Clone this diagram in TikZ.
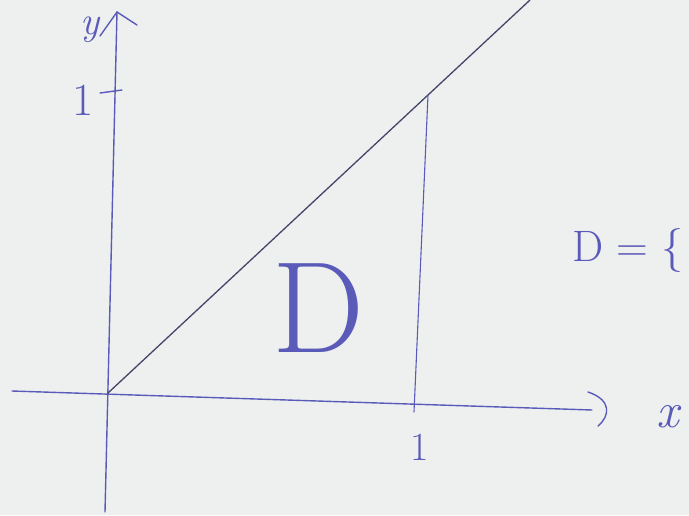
\documentclass[tikz,border=0pt]{standalone}
\usepackage{fontspec}
\definecolor{ink}{HTML}{5A5AB8}
\definecolor{dark}{HTML}{45456A}
\definecolor{paper}{HTML}{EEF0F0}
\tikzset{
  pen/.style={draw=ink, line width=1.4pt, line cap=round},
  darkpen/.style={draw=dark, line width=1.3pt, line cap=round},
  lbl/.style={text=ink, inner sep=0pt, font=#1},
}
\begin{document}
\begin{tikzpicture}[x=1pt,y=-1pt]
  \fill[paper] (0,0) rectangle (689,515);
  \useasboundingbox (0,0) rectangle (689,515);
  % key points
  \coordinate (O) at (108,393);
  \coordinate (ybot) at (105,512);
  \coordinate (ytop) at (117,12);
  \coordinate (xleft) at (12,391);
  \coordinate (xright) at (592,410);
  \coordinate (diagend) at (530,0);
  \coordinate (vtop) at (428,95);
  \coordinate (vbot) at (414,412);
  % axes
  \draw[pen] (ybot) -- (ytop);
  \draw[pen] (100,36) -- (ytop) -- (137,25);
  \draw[pen] (xleft) -- (xright);
  \draw[pen] (588,392) .. controls (612,400) and (610,416) .. (598,426);
  % diagonal
  \draw[darkpen] (O) -- (diagend);
  % vertical at x=1
  \draw[pen, line width=1.1pt] (vtop) -- (vbot);
  % ticks
  \draw[pen] (100,93) -- (122,90);
  % labels
  \node[lbl={\itshape\fontsize{40}{40}\selectfont}] (ylab) at (90,30) {y};
  \node[lbl={\fontsize{46}{46}\selectfont}] (one_y) at (83,100) {1};
  \node[lbl={\fontsize{40}{40}\selectfont}] (one_x) at (420,447) {1};
  \node[lbl={\itshape\fontsize{50}{50}\selectfont}] (xlab) at (668,417) {x};
  \node[lbl={\fontsize{130}{130}\selectfont}] (Dbig) at (318,308) {D};
  \node[lbl={\fontsize{44}{44}\selectfont}] (Dset) at (628,250) {D = \{};
\end{tikzpicture}
\end{document}
